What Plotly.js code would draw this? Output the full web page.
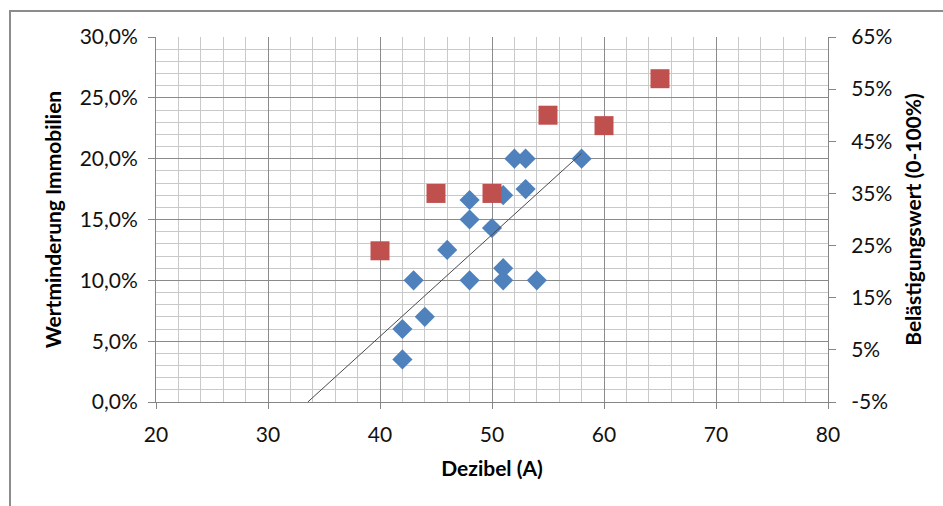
<!DOCTYPE html>
<html><head><meta charset="utf-8">
<script src="https://cdn.plot.ly/plotly-3.0.1.min.js"></script>
<style>html,body{margin:0;padding:0;background:#fff}#chart{width:943px;height:506px}</style>
</head><body><div id="chart"></div>
<script>
// Blue series: Wertminderung Immobilien (left axis, %)
const dezibelBlue = [42, 42, 44, 43, 46, 48, 48, 48, 50, 51, 51, 51, 54, 52, 53, 53, 58];
const wertminderung = [3.5, 6, 7, 10, 12.5, 10, 15, 16.6, 14.3, 17, 11, 10, 10, 20, 20, 17.5, 20];
// Red series: Belästigungswert (right axis, %)
const dezibelRed = [40, 45, 50, 55, 60, 65];
const belaestigung = [24, 35, 35, 50, 48, 57];

const xTickVals = [20, 30, 40, 50, 60, 70, 80];
const leftTickVals = [0, 5, 10, 15, 20, 25, 30];
const leftTickText = ['0,0%', '5,0%', '10,0%', '15,0%', '20,0%', '25,0%', '30,0%'];
const rightTickVals = [-5, 5, 15, 25, 35, 45, 55, 65];
const rightTickText = ['-5%', '5%', '15%', '25%', '35%', '45%', '55%', '65%'];

// Linear trendline (least squares) of the blue series
const n = dezibelBlue.length;
const mx = dezibelBlue.reduce((a, b) => a + b, 0) / n;
const my = wertminderung.reduce((a, b) => a + b, 0) / n;
let sxy = 0, sxx = 0;
for (let i = 0; i < n; i++) {
  sxy += (dezibelBlue[i] - mx) * (wertminderung[i] - my);
  sxx += (dezibelBlue[i] - mx) ** 2;
}
const slope = sxy / sxx;
const intercept = my - slope * mx;
const trendX = [-intercept / slope, Math.max(...dezibelBlue)];
const trendY = trendX.map(x => intercept + slope * x);

const FONT = 'Lato, "Open Sans", sans-serif';
const majorGrid = '#8a8a8a';
const minorGrid = '#c9c9c9';
const axisCol = '#868686';
const titleFont = { family: FONT, size: 21, weight: 'bold', color: '#000' };
const tickFont = { family: FONT, size: 21, color: '#111' };

const traces = [
  { x: dezibelBlue, y: wertminderung, type: 'scatter', mode: 'markers', name: 'Wertminderung Immobilien',
    marker: { symbol: 'diamond', size: 15.5, color: '#4F81BD', line: { width: 0 } }, xaxis: 'x', yaxis: 'y' },
  { x: trendX, y: trendY, type: 'scatter', mode: 'lines', name: 'Trend',
    line: { color: '#4a4a4a', width: 1 }, xaxis: 'x', yaxis: 'y', hoverinfo: 'skip' },
  { x: dezibelRed, y: belaestigung, type: 'scatter', mode: 'markers', name: 'Belästigungswert',
    marker: { symbol: 'square', size: 19, color: '#C0504D', line: { width: 0 } }, xaxis: 'x', yaxis: 'y2' }
];

const layout = {
  width: 943, height: 506,
  margin: { l: 156, r: 115, t: 37, b: 104 },
  paper_bgcolor: '#fff', plot_bgcolor: '#fff',
  showlegend: false,
  font: { family: FONT, size: 21, color: '#000' },
  xaxis: {
    range: [20, 80], tickmode: 'array', tickvals: xTickVals,
    showgrid: true, gridcolor: majorGrid, gridwidth: 1,
    minor: { dtick: 2, tick0: 20, showgrid: true, gridcolor: minorGrid, gridwidth: 1 },
    showline: true, linecolor: axisCol, linewidth: 1,
    ticks: 'outside', ticklen: 6, tickcolor: axisCol, zeroline: false,
    ticklabelstandoff: 8,
    tickfont: tickFont,
    title: { text: 'Dezibel (A)', font: titleFont, standoff: 16 }
  },
  yaxis: {
    range: [0, 30], tickmode: 'array', tickvals: leftTickVals, ticktext: leftTickText,
    showgrid: true, gridcolor: majorGrid, gridwidth: 1,
    minor: { dtick: 1, tick0: 0, showgrid: true, gridcolor: minorGrid, gridwidth: 1 },
    showline: true, linecolor: axisCol, linewidth: 1,
    ticks: 'outside', ticklen: 7, tickcolor: axisCol, zeroline: false,
    ticklabelstandoff: 6,
    tickfont: tickFont,
    title: { text: 'Wertminderung Immobilien', font: titleFont, standoff: 12 }
  },
  yaxis2: {
    overlaying: 'y', side: 'right',
    range: [-5, 65], tickmode: 'array', tickvals: rightTickVals, ticktext: rightTickText,
    showgrid: false, zeroline: false,
    showline: true, linecolor: axisCol, linewidth: 1,
    ticks: 'outside', ticklen: 7, tickcolor: axisCol,
    ticklabelstandoff: 11,
    tickfont: tickFont,
    title: { text: 'Belästigungswert (0-100%)', font: titleFont, standoff: 14 }
  },
  shapes: [
    { type: 'rect', xref: 'paper', yref: 'paper',
      x0: (10 - 156) / 672, x1: 1.3, y0: -0.4, y1: (402 - 11) / 365,
      line: { color: '#8c8c8c', width: 2 }, fillcolor: 'rgba(0,0,0,0)', layer: 'below' }
  ]
};

Plotly.newPlot('chart', traces, layout, { staticPlot: true, displayModeBar: false });
</script>
</body></html>
